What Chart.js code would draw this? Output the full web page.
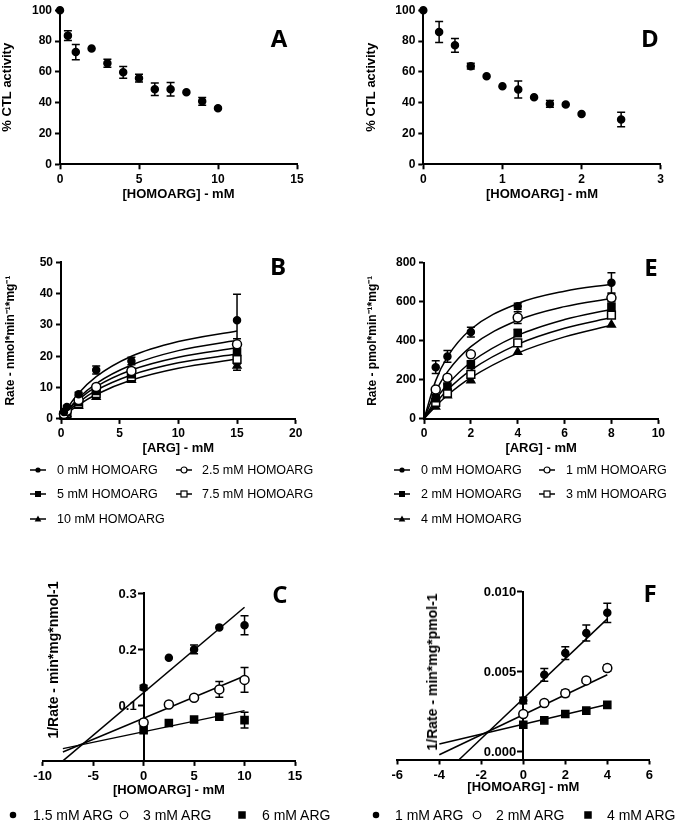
<!DOCTYPE html>
<html>
<head>
<meta charset="utf-8">
<script src="https://cdn.jsdelivr.net/npm/chart.js@4.4.1/dist/chart.umd.min.js"></script>
<style>
  body { margin: 0; background: #fff; }
  #fig { position: relative; width: 685px; height: 822px; overflow: hidden; color: #000;
         font-family: 'Liberation Sans', Arial, sans-serif; }
  #fig canvas { position: absolute; }
  .tag { position: absolute; font: 700 24px 'Open Sans', sans-serif; transform: translate(-50%, -50%); }
  .ytitle { position: absolute; font-weight: 700; font-size: 14px; white-space: nowrap;
            transform: translate(-50%, -50%) rotate(-90deg); }
  .leg { position: absolute; white-space: nowrap; transform: translateY(-50%); }
  .sym { position: absolute; transform: translate(-50%, -50%); display: block; }
</style>
</head>
<body>
<div id="fig">
  <canvas id="cA" width="340" height="206" style="left:0;top:0"></canvas>
  <canvas id="cD" width="321" height="206" style="left:364px;top:0"></canvas>
  <canvas id="cB" width="340" height="240" style="left:0;top:220px"></canvas>
  <canvas id="cE" width="323" height="240" style="left:362px;top:220px"></canvas>
  <canvas id="cC" width="340" height="242" style="left:0;top:560px"></canvas>
  <canvas id="cF" width="335" height="239" style="left:350px;top:560px"></canvas>
</div>
<script>
// ---- data ----

// A: % CTL activity vs homoarginine (mM)
const aDose = [0, 0.5, 1, 2, 3, 4, 5, 6, 7, 8, 9, 10];
const aActivity = [100, 83.5, 72.8, 75.1, 65.6, 59.7, 55.9, 48.7, 48.7, 46.8, 40.9, 36.3];
const aSem = [0, 3.2, 5, 0, 2.6, 3.8, 2.5, 4, 4.4, 0, 2.5, 0];

// D: % CTL activity vs homoarginine (mM)
const dDose = [0, 0.2, 0.4, 0.6, 0.8, 1.0, 1.2, 1.4, 1.6, 1.8, 2.0, 2.5];
const dActivity = [100, 85.9, 77.2, 63.7, 57.2, 50.6, 48.5, 43.5, 39.2, 38.8, 32.7, 29.1];
const dSem = [0, 6.8, 4.5, 1.8, 0, 0, 5.5, 0, 2.2, 0, 0, 4.7];

// B: rate (nmol/min/mg) vs ARG, five HOMOARG levels
const bSeries = ['0 mM HOMOARG', '2.5 mM HOMOARG', '5 mM HOMOARG', '7.5 mM HOMOARG', '10 mM HOMOARG'];
const bArg = [0.25, 0.5, 1.5, 3, 6, 15];
const bRate0 = [2.2, 3.8, 7.9, 15.6, 18.5, 31.5];
const bRate25 = [1.6, 2.6, 6.0, 10.2, 15.3, 23.8];
const bRate5 = [1.3, 2.1, 5.4, 8.9, 14.3, 21.4];
const bRate75 = [1.1, 1.8, 4.9, 8.1, 13.4, 19.0];
const bRate10 = [0.9, 1.5, 4.1, 7.0, 12.4, 17.0];
const bSem0 = [0, 0.5, 0.6, 1.3, 1.2, 8.3];
const bSem25 = [0, 0, 0, 0.6, 1.0, 1.8];
const bSem5 = [0, 0, 0, 0, 0.8, 1.2];
const bSem75 = [0, 0, 0, 0, 0, 1.5];
const bSem10 = [0, 0, 0, 0, 0, 1.5];
// fitted curves
const bFitX = [0, 0.5, 1.5, 3, 6, 10, 15];
const bFit0 = [0, 3.2, 8.2, 13.5, 20.0, 24.7, 28.1];
const bFit25 = [0, 2.5, 6.7, 11.3, 17.2, 21.8, 25.1];
const bFit5 = [0, 2.3, 6.1, 10.3, 15.6, 19.7, 22.7];
const bFit75 = [0, 2.0, 5.3, 9.1, 14.0, 17.9, 20.7];
const bFit10 = [0, 1.7, 4.5, 7.8, 12.4, 16.2, 19.1];

// E: rate (pmol/min/mg) vs ARG, five HOMOARG levels
const eSeries = ['0 mM HOMOARG', '1 mM HOMOARG', '2 mM HOMOARG', '3 mM HOMOARG', '4 mM HOMOARG'];
const eArg = [0.5, 1, 2, 4, 8];
const eRate0 = [265, 320, 445, 577, 697];
const eRate1 = [151, 211, 331, 519, 620];
const eRate2 = [106, 166, 278, 440, 574];
const eRate3 = [85, 132, 228, 389, 531];
const eRate4 = [62, 120, 197, 342, 482];
const eSem0 = [33, 30, 25, 15, 52];
const eSem1 = [0, 0, 0, 30, 20];
const eSem2 = [0, 12, 20, 18, 0];
const eSem3 = [0, 0, 15, 0, 0];
const eSem4 = [0, 0, 0, 0, 0];
const eFitX = [0, 0.5, 1, 2, 4, 6, 8];
const eFit0 = [0, 196, 318, 459, 591, 654, 690];
const eFit1 = [0, 142, 241, 370, 505, 575, 617];
const eFit2 = [0, 99, 176, 290, 428, 509, 562];
const eFit3 = [0, 81, 148, 250, 382, 464, 519];
const eFit4 = [0, 65, 121, 211, 337, 420, 480];

// C: 1/rate vs HOMOARG, three ARG levels
const cSeries = ['1.5 mM ARG', '3 mM ARG', '6 mM ARG'];
const cHomo = [0, 2.5, 5, 7.5, 10];
const cInv15 = [0.1315, 0.1846, 0.1996, 0.239, 0.243];
const cInv3 = [0.0688, 0.101, 0.113, 0.128, 0.145];
const cInv6 = [0.055, 0.068, 0.074, 0.079, 0.073];
const cSem15 = [0.004, 0, 0.008, 0, 0.017];
const cSem3 = [0.004, 0, 0, 0.014, 0.022];
const cSem6 = [0, 0, 0, 0, 0.014];
const cFitX = [-8, 10];
const cFit15 = [0, 0.275];
const cFit3 = [0.016, 0.152];
const cFit6 = [0.022, 0.090];

// F: 1/rate vs HOMOARG, three ARG levels
const fSeries = ['1 mM ARG', '2 mM ARG', '4 mM ARG'];
const fHomo = [0, 1, 2, 3, 4];
const fInv1 = [0.00319, 0.00480, 0.00616, 0.00742, 0.00868];
const fInv2 = [0.00235, 0.00304, 0.00365, 0.00445, 0.00522];
const fInv4 = [0.00168, 0.00195, 0.00235, 0.00256, 0.00292];
const fSem1 = [0.0002, 0.0004, 0.0004, 0.0005, 0.0006];
const fSem2 = [0, 0, 0.0002, 0, 0.0002];
const fSem4 = [0, 0, 0, 0, 0];
const fFit1X = [-3.05, 4];
const fFit1 = [-0.0005, 0.0083];
const fFit2X = [-4, 4];
const fFit2 = [-0.0002, 0.0048];
const fFit4X = [-4, 4];
const fFit4 = [0.00047, 0.00294];

// ---- helpers ----
const FONT = "'Liberation Sans', Arial, sans-serif";

const pts = (xs, ys) => xs.map((x, i) => ({ x: x, y: ys[i] }));

const MARK = {
  dot:    { pointStyle: 'circle',   pointRadius: 3.5, pointBackgroundColor: '#000' },
  ring:   { pointStyle: 'circle',   pointRadius: 4.5, pointBackgroundColor: '#fff' },
  square: { pointStyle: 'rect',     pointRadius: 5,   pointBackgroundColor: '#000' },
  box:    { pointStyle: 'rect',     pointRadius: 5.5, pointBackgroundColor: '#fff' },
  tri:    { pointStyle: 'triangle', pointRadius: 4.5, pointBackgroundColor: '#000' }
};

function marks(xs, ys, errs, style) {
  return Object.assign({
    data: pts(xs, ys),
    errors: errs,
    showLine: false,
    clip: false,
    pointBorderColor: '#000',
    pointBorderWidth: 1.5
  }, MARK[style]);
}

function fitLine(xs, ys, curved) {
  return {
    data: pts(xs, ys),
    showLine: true,
    pointRadius: 0,
    borderColor: '#000',
    borderWidth: 1.5,
    clip: false,
    tension: curved ? 0.4 : 0,
    cubicInterpolationMode: curved ? 'monotone' : 'default'
  };
}

function axis(o) {
  const a = {
    type: 'linear',
    min: o.min,
    max: o.max,
    position: o.position,
    afterFit: (s) => {
      if (o.horizontal) s.height = o.size; else s.width = o.size;
    },
    ticks: {
      display: !o.crossed,
      stepSize: o.step,
      color: '#000',
      padding: 3,
      font: { family: FONT, size: o.tickSize || 12, weight: 'bold' },
      callback: o.fmt || ((v) => v)
    },
    grid: { drawOnChartArea: false, drawTicks: true, tickLength: 5, tickWidth: 2, tickColor: '#000' },
    border: { color: '#000', width: 2 },
    title: {
      display: !!o.title,
      text: o.title || '',
      color: '#000',
      font: { family: FONT, size: o.titleSize || 13, weight: 'bold' },
      padding: o.titlePad || { top: 4, bottom: 4 }
    }
  };
  if (o.ticksAt) {
    a.afterBuildTicks = (s) => { s.ticks = o.ticksAt.map((v) => ({ value: v })); };
  }
  return a;
}

// error bars drawn under the markers
const errorBars = {
  id: 'errorBars',
  beforeDatasetsDraw(chart) {
    const ctx = chart.ctx;
    const xs = chart.scales.x;
    const ys = chart.scales.y;
    ctx.save();
    ctx.strokeStyle = '#000';
    ctx.lineWidth = 1.5;
    chart.data.datasets.forEach((ds) => {
      if (!ds.errors) return;
      ds.data.forEach((p, j) => {
        const e = ds.errors[j];
        if (!e) return;
        const px = xs.getPixelForValue(p.x);
        const top = ys.getPixelForValue(p.y + e);
        const bot = ys.getPixelForValue(p.y - e);
        ctx.beginPath();
        ctx.moveTo(px, top); ctx.lineTo(px, bot);
        ctx.moveTo(px - 4, top); ctx.lineTo(px + 4, top);
        ctx.moveTo(px - 4, bot); ctx.lineTo(px + 4, bot);
        ctx.stroke();
      });
    });
    ctx.restore();
  }
};

// y tick labels for an axis that crosses at x = 0 (C and F)
const crossLabels = {
  id: 'crossLabels',
  afterDraw(chart, args, opts) {
    if (!opts || !opts.fmt) return;
    const ctx = chart.ctx;
    const xs = chart.scales.x;
    const ys = chart.scales.y;
    const x0 = xs.getPixelForValue(0) - 7;
    ctx.save();
    ctx.fillStyle = '#000';
    ctx.font = 'bold ' + opts.size + 'px ' + FONT;
    ctx.textAlign = 'right';
    ctx.textBaseline = 'middle';
    ys.ticks.forEach((t) => {
      ctx.fillText(opts.fmt(t.value), x0, ys.getPixelForValue(t.value) + 1);
    });
    ctx.restore();
  }
};

function makeChart(id, datasets, xAxis, yAxis, padding, cross) {
  return new Chart(document.getElementById(id), {
    type: 'scatter',
    data: { datasets: datasets },
    options: {
      responsive: false,
      animation: false,
      events: [],
      layout: { padding: padding },
      plugins: {
        legend: { display: false },
        tooltip: { enabled: false },
        crossLabels: cross || false
      },
      scales: { x: xAxis, y: yAxis }
    },
    plugins: [errorBars, crossLabels]
  });
}

// ---- panel A ----
makeChart('cA',
  [marks(aDose, aActivity, aSem, 'dot')],
  axis({ min: 0, max: 15, step: 5, horizontal: true, size: 41.7, position: 'bottom', title: '[HOMOARG] - mM' }),
  axis({ min: 0, max: 100, step: 20, size: 60, position: 'left', title: '% CTL activity', titlePad: { top: 0, bottom: 0 } }),
  { left: 0, right: 43, top: 6, bottom: 0 });

// ---- panel D ----
makeChart('cD',
  [marks(dDose, dActivity, dSem, 'dot')],
  axis({ min: 0, max: 3, step: 1, horizontal: true, size: 41.7, position: 'bottom', title: '[HOMOARG] - mM' }),
  axis({ min: 0, max: 100, step: 20, size: 59.3, position: 'left', title: '% CTL activity', titlePad: { top: 0, bottom: 0 } }),
  { left: 0, right: 24.3, top: 6, bottom: 0 });

// ---- panel B ----
makeChart('cB',
  [
    marks(bArg, bRate0, bSem0, 'dot'),
    marks(bArg, bRate25, bSem25, 'ring'),
    marks(bArg, bRate5, bSem5, 'square'),
    marks(bArg, bRate75, bSem75, 'box'),
    marks(bArg, bRate10, bSem10, 'tri'),
    fitLine(bFitX, bFit0, true),
    fitLine(bFitX, bFit25, true),
    fitLine(bFitX, bFit5, true),
    fitLine(bFitX, bFit75, true),
    fitLine(bFitX, bFit10, true)
  ],
  axis({ min: 0, max: 20, step: 5, horizontal: true, size: 41.1, position: 'bottom', title: '[ARG] - mM' }),
  axis({ min: 0, max: 50, step: 10, size: 61, position: 'left', title: 'Rate - nmol*min\u207B\u00B9*mg\u207B\u00B9', titleSize: 12, titlePad: { top: 3, bottom: 3 } }),
  { left: 0, right: 44.3, top: 42.3, bottom: 0 });

// ---- panel E ----
makeChart('cE',
  [
    marks(eArg, eRate0, eSem0, 'dot'),
    marks(eArg, eRate1, eSem1, 'ring'),
    marks(eArg, eRate2, eSem2, 'square'),
    marks(eArg, eRate3, eSem3, 'box'),
    marks(eArg, eRate4, eSem4, 'tri'),
    fitLine(eFitX, eFit0, true),
    fitLine(eFitX, eFit1, true),
    fitLine(eFitX, eFit2, true),
    fitLine(eFitX, eFit3, true),
    fitLine(eFitX, eFit4, true)
  ],
  axis({ min: 0, max: 10, step: 2, horizontal: true, size: 41.1, position: 'bottom', title: '[ARG] - mM' }),
  axis({ min: 0, max: 800, step: 200, size: 62, position: 'left', title: 'Rate - pmol*min\u207B\u00B9*mg\u207B\u00B9', titleSize: 12, titlePad: { top: 3, bottom: 3 } }),
  { left: 0, right: 26.7, top: 42.7, bottom: 0 });

// ---- panel C ----
makeChart('cC',
  [
    marks(cHomo, cInv15, cSem15, 'dot'),
    marks(cHomo, cInv3, cSem3, 'ring'),
    marks(cHomo, cInv6, cSem6, 'square'),
    fitLine(cFitX, cFit15, false),
    fitLine(cFitX, cFit3, false),
    fitLine(cFitX, cFit6, false)
  ],
  axis({ min: -10, max: 15, step: 5, horizontal: true, size: 41.1, position: 'bottom', title: '[HOMOARG] - mM', tickSize: 13 }),
  axis({ min: 0, max: 0.3, size: 40, position: { x: 0 }, ticksAt: [0.1, 0.2, 0.3], crossed: true }),
  { left: 42.7, right: 45, top: 33.3, bottom: 0 },
  { fmt: (v) => v.toFixed(1), size: 13 });

// ---- panel F ----
makeChart('cF',
  [
    marks(fHomo, fInv1, fSem1, 'dot'),
    marks(fHomo, fInv2, fSem2, 'ring'),
    marks(fHomo, fInv4, fSem4, 'square'),
    fitLine(fFit1X, fFit1, false),
    fitLine(fFit2X, fFit2, false),
    fitLine(fFit4X, fFit4, false)
  ],
  axis({ min: -6, max: 6, step: 2, horizontal: true, size: 39.5, position: 'bottom', title: '[HOMOARG] - mM', tickSize: 13 }),
  axis({ min: -0.0005, max: 0.010, size: 50, position: { x: 0 }, ticksAt: [0, 0.005, 0.010], crossed: true }),
  { left: 47.3, right: 35.7, top: 31.7, bottom: 0 },
  { fmt: (v) => v.toFixed(3), size: 13 });

// ---- labels, rotated y titles for C/F, legends ----
const fig = document.getElementById('fig');

function addDiv(cls, text, x, y, style) {
  const d = document.createElement('div');
  d.className = cls;
  d.textContent = text;
  d.style.left = x + 'px';
  d.style.top = y + 'px';
  if (style) Object.assign(d.style, style);
  fig.appendChild(d);
  return d;
}

[['A', 279, 37], ['D', 650, 37], ['B', 278, 265], ['E', 651, 266], ['C', 280, 593], ['F', 650, 592]]
  .forEach((t) => addDiv('tag', t[0], t[1], t[2]));

addDiv('ytitle', '1/Rate - min*mg*nmol-1', 53, 660);
addDiv('ytitle', '1/Rate - min*mg*pmol-1', 432, 672);

function symbolSvg(style, withLine, big) {
  const w = withLine ? 16 : 12;
  const c = w / 2;
  const s = big ? 1.25 : 1;
  let m = '';
  if (style === 'dot') m = `<circle cx="${c}" cy="6" r="${2.6 * s}" fill="#000"/>`;
  if (style === 'ring') m = `<circle cx="${c}" cy="6" r="${3 * s}" fill="#fff" stroke="#000" stroke-width="1.2"/>`;
  if (style === 'square') m = `<rect x="${c - 3 * s}" y="${6 - 3 * s}" width="${6 * s}" height="${6 * s}" fill="#000"/>`;
  if (style === 'box') m = `<rect x="${c - 3}" y="3" width="6" height="6" fill="#fff" stroke="#000" stroke-width="1.2"/>`;
  if (style === 'tri') m = `<polygon points="${c},2.5 ${c + 3.3},8.5 ${c - 3.3},8.5" fill="#000"/>`;
  const line = withLine ? `<line x1="0" y1="6" x2="${w}" y2="6" stroke="#000" stroke-width="1.5"/>` : '';
  return `<svg class="sym" width="${w}" height="12" viewBox="0 0 ${w} 12">${line}${m}</svg>`;
}

function legendItem(label, style, sx, tx, y, withLine, size) {
  const holder = document.createElement('div');
  holder.innerHTML = symbolSvg(style, withLine, !withLine);
  const svg = holder.firstChild;
  svg.style.left = sx + 'px';
  svg.style.top = y + 'px';
  fig.appendChild(svg);
  addDiv('leg', label, tx, y, { fontSize: size + 'px' });
}

const kinStyles = ['dot', 'ring', 'square', 'box', 'tri'];
const rows = [470, 470, 494, 494, 519];
const colB = [[38, 57], [184, 202], [38, 57], [184, 202], [38, 57]];
const colE = [[402, 421], [547, 566], [402, 421], [547, 566], [402, 421]];
bSeries.forEach((lab, i) => legendItem(lab, kinStyles[i], colB[i][0], colB[i][1], rows[i], true, 12.5));
eSeries.forEach((lab, i) => legendItem(lab, kinStyles[i], colE[i][0], colE[i][1], rows[i], true, 12.5));

const invStyles = ['dot', 'ring', 'square'];
const colC = [[13, 33], [124, 143], [242, 262]];
const colF = [[376, 395], [477, 496], [588, 607]];
cSeries.forEach((lab, i) => legendItem(lab, invStyles[i], colC[i][0], colC[i][1], 815, false, 14));
fSeries.forEach((lab, i) => legendItem(lab, invStyles[i], colF[i][0], colF[i][1], 815, false, 14));
</script>
</body>
</html>
